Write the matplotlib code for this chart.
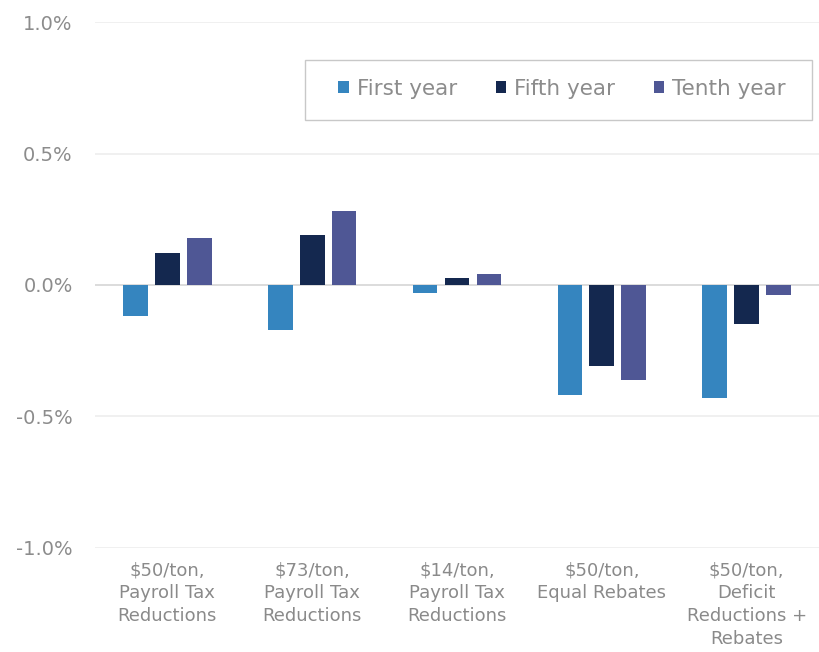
import numpy as np
import matplotlib.pyplot as plt
from matplotlib.patches import Rectangle
from matplotlib.ticker import FuncFormatter

categories = [
    "$50/ton,\nPayroll Tax\nReductions",
    "$73/ton,\nPayroll Tax\nReductions",
    "$14/ton,\nPayroll Tax\nReductions",
    "$50/ton,\nEqual Rebates",
    "$50/ton,\nDeficit\nReductions +\nRebates",
]
first_year = [-0.12, -0.17, -0.03, -0.42, -0.43]
fifth_year = [0.12, 0.19, 0.025, -0.31, -0.15]
tenth_year = [0.18, 0.28, 0.04, -0.36, -0.04]

series = [
    ("First year", first_year, "#3585bf"),
    ("Fifth year", fifth_year, "#14284f"),
    ("Tenth year", tenth_year, "#4f5795"),
]

plt.rcParams["font.family"] = ["DejaVu Sans"]

fig = plt.figure(figsize=(8.19, 6.52), dpi=100)
ax = fig.add_axes([0.116, 0.16, 0.884, 0.806])

x = np.arange(len(categories))
width = 0.17
step = 0.22
for i, (name, vals, col) in enumerate(series):
    ax.bar(x + (i - 1) * step, vals, width, color=col, label=name, zorder=3)

ax.set_ylim(-1.0, 1.0)
ax.set_xlim(-0.5, 4.5)
ax.set_yticks([-1.0, -0.5, 0.0, 0.5, 1.0])
ax.yaxis.set_major_formatter(FuncFormatter(lambda v, p: f"{v:.1f}%"))
ax.grid(axis="y", color="#eeeeee", linewidth=1.2, zorder=0)
ax.axhline(0, color="#d9d9d9", linewidth=1.2, zorder=2)

ax.set_xticks(x)
ax.set_xticklabels(categories, fontsize=13, color="#8a8a8a", linespacing=1.34)
ax.tick_params(axis="y", labelsize=14, labelcolor="#8c8c8c", length=0, pad=16)
ax.tick_params(axis="x", length=0, pad=10)
for s in ax.spines.values():
    s.set_visible(False)

# legend box is wider than tall, so draw the frame separately
ax.add_patch(Rectangle((0.29, 0.814), 0.70, 0.114, transform=ax.transAxes,
                       facecolor="white", edgecolor="#c8c8c8", linewidth=1.0,
                       zorder=4))
leg = ax.legend(loc="center", bbox_to_anchor=(0.645, 0.873), ncol=3, fontsize=15.5,
                frameon=False, handlelength=0.5, handleheight=0.5,
                handletextpad=0.35, columnspacing=1.8, borderpad=0, borderaxespad=0)
leg.set_zorder(5)
for t in leg.get_texts():
    t.set_color("#8c8c8c")

fig.savefig("out.png", dpi=100, facecolor="white")
